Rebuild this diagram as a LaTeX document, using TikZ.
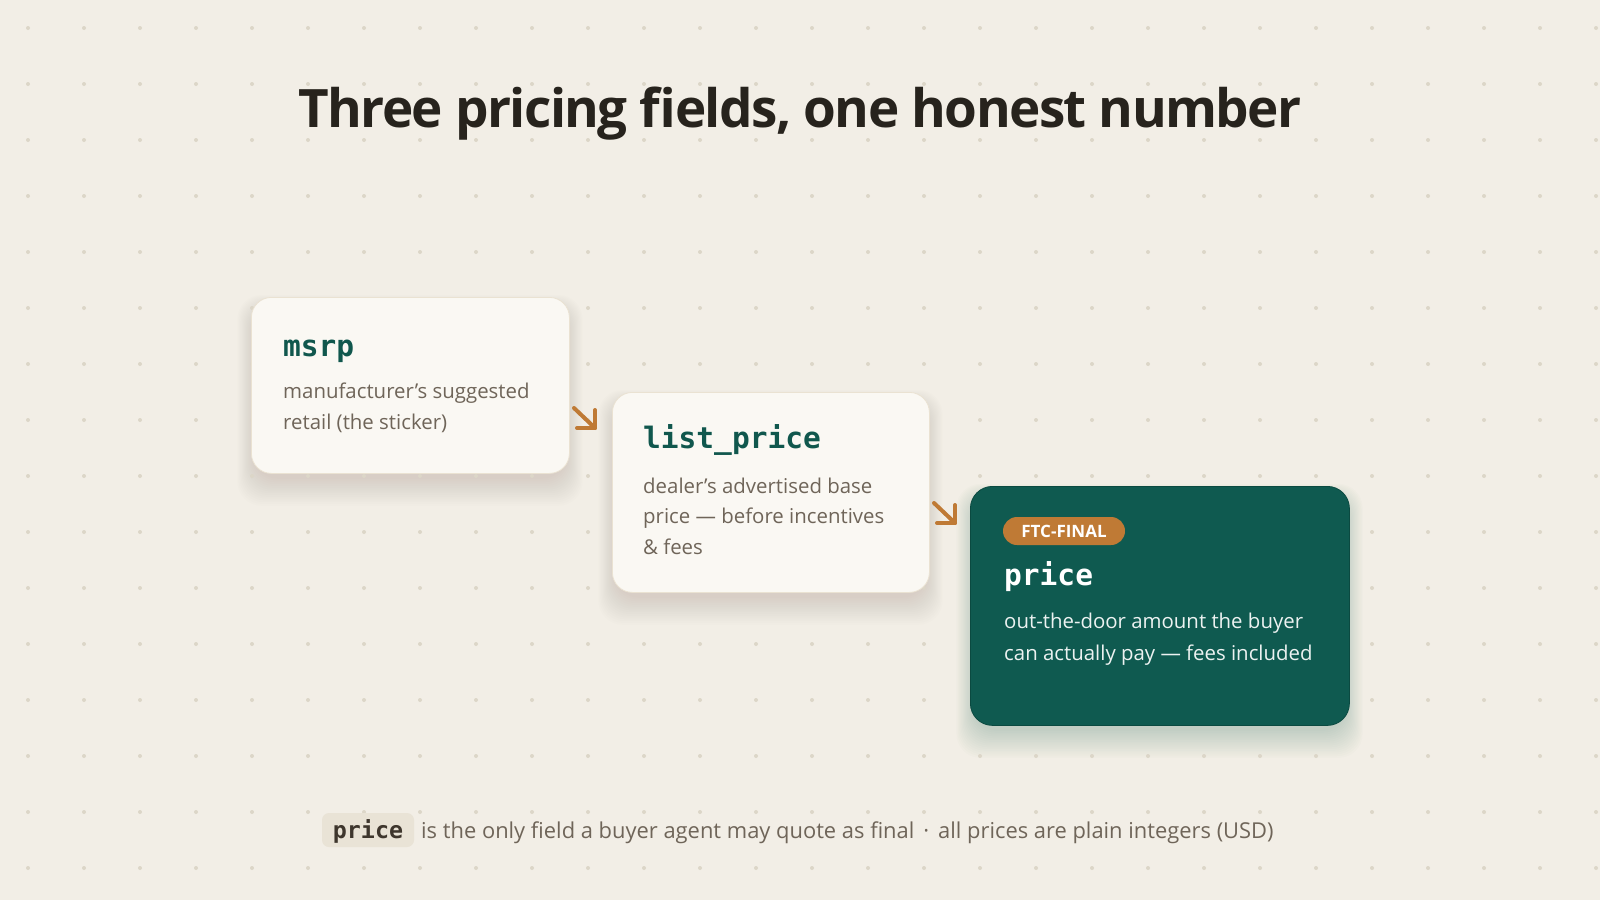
\documentclass[tikz,border=0pt]{standalone}
\usepackage{fontspec}
\setmainfont{Open Sans}
\setmonofont{DejaVu Sans Mono}
\newfontfamily\titlefont[LetterSpace=-3]{Open Sans}
\usetikzlibrary{calc,positioning}
\definecolor{bgc}{HTML}{F2EEE6}
\definecolor{dotc}{HTML}{DCD6C8}
\definecolor{cardc}{HTML}{FAF8F3}
\definecolor{cardline}{HTML}{EAE2D2}
\definecolor{greenc}{HTML}{0F5A50}
\definecolor{greenline}{HTML}{0B4A41}
\definecolor{codec}{HTML}{10574D}
\definecolor{bodyc}{HTML}{6F6559}
\definecolor{titlec}{HTML}{27231D}
\definecolor{orangec}{HTML}{BF7A35}
\definecolor{chipc}{HTML}{E9E3D6}
\definecolor{chiptext}{HTML}{3E362D}
\definecolor{shadec}{HTML}{8A7A5C}
\definecolor{greenshade}{HTML}{3F6F62}
\def\softshadow(#1,#2)(#3,#4)#5#6{\foreach \k in {1,...,16}{\fill[#5, fill opacity=#6, rounded corners=24bp] ({#1+4-\k*1.1},{#2+14-\k*1.0}) rectangle ({#3-4+\k*1.1},{#4+4+\k*1.8});}}
\tikzset{
  card/.style={draw=cardline, line width=0.8bp, fill=cardc, rounded corners=20bp, inner sep=0pt, anchor=north west},
  darkcard/.style={draw=greenline, line width=0.8bp, fill=greenc, rounded corners=22bp, inner sep=0pt, anchor=north west},
  fieldname/.style={anchor=base west, inner sep=0pt, text=codec, font=\ttfamily\bfseries\fontsize{29.5bp}{34bp}\selectfont},
  blurb/.style={anchor=base west, inner sep=0pt, text=bodyc, align=left, font=\fontsize{20.4bp}{30.5bp}\selectfont},
  pointer/.style={draw=orangec, line width=4bp, line cap=round, line join=round},
}
\begin{document}
\begin{tikzpicture}[x=1bp, y=-1bp]
		%%%%% BACKGROUND %%%%%
		\fill[bgc] (0,0) rectangle (1600,900);
		\useasboundingbox (0,0) rectangle (1600,900);
		
		\node[anchor=base, inner sep=0pt, text=titlec, font=\titlefont\bfseries\fontsize{53bp}{60bp}\selectfont] (title) at (800,127) {Three pricing fields, one honest number};
		
		%%%%% SHADOWS %%%%%
		\softshadow(251,297)(569,473){shadec}{0.010}
		\softshadow(612,392)(929,592){shadec}{0.010}
		\softshadow(970,486)(1349,725){greenshade}{0.017}
		
		\foreach \i in {0,...,28}
			\foreach \j in {0,...,15}
				\fill[dotc] ({28+56*\i},{28+56*\j}) circle (2bp);
		
		%%%%% CARDS %%%%%
		\node[card, minimum width=318bp, minimum height=176bp] (msrpcard) at (251,297) {};
		\node[fieldname] (msrp) at (283,356) {msrp};
		\node[blurb] (msrpnote) at (283,429) {manufacturer’s suggested\\retail (the sticker)};
		
		\node[card, minimum width=317bp, minimum height=200bp] (listcard) at (612,392) {};
		\node[fieldname] (list) at (643,448) {list\_price};
		\node[blurb] (listnote) at (643,554) {dealer’s advertised base\\price — before incentives\\\& fees};
		
		\node[darkcard, minimum width=379bp, minimum height=239bp] (pricecard) at (970,486) {};
		\node[fill=orangec, rounded corners=14bp, minimum width=122bp, minimum height=28bp, inner sep=0pt, text=white, font=\bfseries\fontsize{17bp}{18bp}\selectfont] (ftc) at (1064,531) {FTC-FINAL};
		\node[fieldname, text=white] (price) at (1004,585) {price};
		\node[blurb, text=white!92!greenc, font=\fontsize{20.4bp}{31.5bp}\selectfont] (pricenote) at (1004,660) {out-the-door amount the buyer\\can actually pay — fees included};
		
		%%%%% POINTERS %%%%%
		\coordinate (p1from) at (574,408);
		\coordinate (p1to) at (595,428);
		\draw[pointer] (p1from) -- (p1to);
		\draw[pointer] ($(p1to)+(-18,0)$) -- (p1to) -- ($(p1to)+(0,-18)$);
		
		\coordinate (p2from) at (934,503);
		\coordinate (p2to) at (955,523);
		\draw[pointer] (p2from) -- (p2to);
		\draw[pointer] ($(p2to)+(-18,0)$) -- (p2to) -- ($(p2to)+(0,-18)$);
		
		%%%%% FOOTER %%%%%
		\node[fill=chipc, rounded corners=7bp, minimum width=92bp, minimum height=34bp, inner sep=0pt] (chip) at (368,830) {};
		\node[anchor=base, inner sep=0pt, text=chiptext, font=\ttfamily\bfseries\fontsize{23.3bp}{26bp}\selectfont] (chipword) at (368,838) {price};
		\node[anchor=base west, inner sep=0pt, text=bodyc, font=\fontsize{21.9bp}{24bp}\selectfont] (footnote) at (421,838) {is the only field a buyer agent may quote as final\hspace{9bp}·\hspace{9bp}all prices are plain integers (USD)};
		
		%%%%% END %%%%%
	\end{tikzpicture}
\end{document}
